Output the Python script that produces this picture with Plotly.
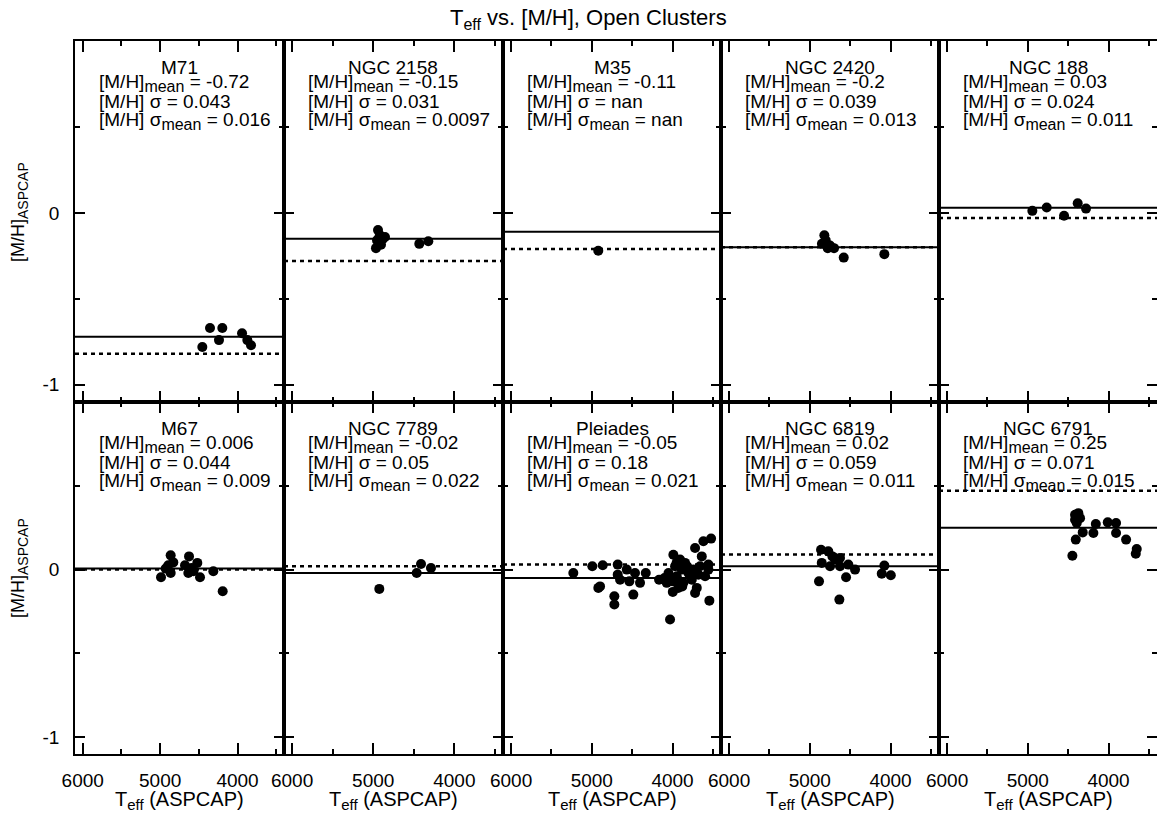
import plotly.graph_objects as go

# ---- cluster data: ASPCAP Teff and [M/H] per member star ----
names = ["M71", "NGC 2158", "M35", "NGC 2420", "NGC 188",
         "M67", "NGC 7789", "Pleiades", "NGC 6819", "NGC 6791"]

teff_m71 = [4455, 4356, 4240, 4197, 3942, 3874, 3826]
mh_m71 = [-0.78, -0.67, -0.74, -0.67, -0.70, -0.74, -0.77]

teff_ngc2158 = [4941, 4916, 4879, 4953, 4904, 4966, 4855, 4928, 4432, 4321]
mh_ngc2158 = [-0.10, -0.13, -0.15, -0.16, -0.185, -0.205, -0.14, -0.145, -0.18, -0.165]

teff_m35 = [4920]
mh_m35 = [-0.22]

teff_ngc2420 = [4820, 4803, 4778, 4700, 4750, 4850, 4580, 4077]
mh_ngc2420 = [-0.13, -0.16, -0.205, -0.205, -0.19, -0.18, -0.26, -0.24]

teff_ngc188 = [4944, 4766, 4551, 4382, 4279]
mh_ngc188 = [0.012, 0.031, -0.017, 0.056, 0.025]

teff_m67 = [4989, 4928, 4864, 4864, 4830, 4895, 4679, 4627, 4636, 4592,
            4520, 4485, 4313, 4192, 4571]
mh_m67 = [-0.046, 0.006, 0.085, -0.02, 0.043, 0.026, 0.026, 0.079, -0.02, 0.01,
          0.04, -0.046, -0.01, -0.129, -0.01]

teff_ngc7789 = [4925, 4464, 4411, 4288]
mh_ngc7789 = [-0.115, -0.02, 0.034, 0.01]

teff_pleiades = [5229, 4994, 4865, 4919, 4898, 4721, 4721, 4679, 4679, 4650,
                 4567, 4535, 4486, 4465, 4403, 4332, 4167, 4072, 4031, 3997,
                 3990, 3969, 3948, 3907, 3886, 3866, 3845, 3804, 3762, 3721,
                 3721, 3700, 3659, 3638, 3618, 3597, 3556, 3523, 3556, 3544,
                 4031, 3928, 3680, 3742, 4100, 4050, 3950, 3880, 3820, 3780,
                 4000, 3930]
mh_pleiades = [-0.02, 0.02, 0.026, -0.109, -0.10, -0.159, -0.208, 0.03, -0.03, -0.06,
               0.0, -0.07, -0.149, -0.02, -0.079, -0.02, -0.06, -0.079, -0.298, -0.133,
               0.089, 0.02, -0.04, 0.06, 0.0, -0.079, 0.04, -0.02, -0.06, 0.129,
               -0.139, -0.109, 0.02, 0.079, 0.169, -0.04, 0.03, 0.185, 0.0, -0.185,
               -0.049, -0.069, -0.03, 0.0, -0.05, -0.02, 0.04, -0.10, 0.02, -0.03,
               -0.07, -0.11]

teff_ngc6819 = [4886, 4861, 4771, 4852, 4749, 4687, 4626, 4626, 4551, 4523,
                4440, 4634, 4077, 4109, 3997, 4720]
mh_ngc6819 = [-0.07, 0.119, 0.109, 0.04, 0.02, 0.06, 0.07, 0.02, -0.046, 0.03,
              0.0, -0.179, 0.024, -0.024, -0.034, 0.079]

teff_ngc6791 = [4415, 4374, 4353, 4415, 4394, 4320, 4406, 4448, 4188, 4158,
                4010, 3907, 3907, 3783, 3651, 3663]
mh_ngc6791 = [0.327, 0.337, 0.307, 0.298, 0.278, 0.222, 0.179, 0.083, 0.218, 0.272,
              0.282, 0.278, 0.218, 0.179, 0.123, 0.095]

teff_all = [teff_m71, teff_ngc2158, teff_m35, teff_ngc2420, teff_ngc188,
            teff_m67, teff_ngc7789, teff_pleiades, teff_ngc6819, teff_ngc6791]
mh_all = [mh_m71, mh_ngc2158, mh_m35, mh_ngc2420, mh_ngc188,
          mh_m67, mh_ngc7789, mh_pleiades, mh_ngc6819, mh_ngc6791]

# summary statistics printed in each panel
mh_mean = [-0.72, -0.15, -0.11, -0.2, 0.03, 0.006, -0.02, -0.05, 0.02, 0.25]
mh_sigma = [0.043, 0.031, float("nan"), 0.039, 0.024, 0.044, 0.05, 0.18, 0.059, 0.071]
mh_sigma_mean = [0.016, 0.0097, float("nan"), 0.013, 0.011, 0.009, 0.022, 0.021, 0.011, 0.015]
# literature metallicities (dotted reference lines)
mh_lit = [-0.82, -0.28, -0.21, -0.20, -0.03, 0.0, 0.02, 0.03, 0.09, 0.47]

x_ticks = [6000, 5000, 4000]
y_ticks = [-1, 0]

# ---- layout geometry (pixels) ----
W, H = 1157, 813
col_edges = [75, 284, 503, 721, 939, 1157]
row_edges = [41, 402, 754]
FONT = "Liberation Sans, Arial, Helvetica, sans-serif"


def px(x):
    return x / W


def py(y):
    return 1 - y / H


def sub(s, size):
    return f'<sub><span style="font-size:{size}px">{s}</span></sub>'


fig = go.Figure()
layout_axes = {}
shapes = []
annotations = []

for i, name in enumerate(names):
    r, c = divmod(i, 5)
    n = i + 1
    xa = "x" if n == 1 else f"x{n}"
    ya = "y" if n == 1 else f"y{n}"
    xkey = "xaxis" if n == 1 else f"xaxis{n}"
    ykey = "yaxis" if n == 1 else f"yaxis{n}"

    layout_axes[xkey] = dict(
        domain=[px(col_edges[c]), px(col_edges[c + 1])],
        anchor=ya, range=[6100, 3400], autorange=False,
        tickmode="array", tickvals=x_ticks,
        ticktext=[str(v) for v in x_ticks],
        showticklabels=(r == 1),
        ticks="inside", ticklen=11, tickwidth=1.5, tickcolor="black",
        minor=dict(ticks="inside", ticklen=5, tickwidth=1.5, tickcolor="black",
                   tickvals=[5500, 4500, 3500]),
        showline=True, linewidth=1.6, linecolor="black", mirror="allticks",
        showgrid=False, zeroline=False, automargin=False,
        ticklabelstandoff=8,
        tickfont=dict(family=FONT, size=19, color="black"),
    )
    layout_axes[ykey] = dict(
        domain=[py(row_edges[r + 1]), py(row_edges[r])],
        anchor=xa, range=[-1.1, 1.0], autorange=False,
        tickmode="array", tickvals=y_ticks,
        ticktext=[str(v) for v in y_ticks],
        showticklabels=(c == 0),
        ticks="inside", ticklen=10, tickwidth=1.5, tickcolor="black",
        minor=dict(ticks="inside", ticklen=5, tickwidth=1.5, tickcolor="black",
                   tickvals=[-0.5, 0.5]),
        showline=True, linewidth=1.6, linecolor="black", mirror="allticks",
        showgrid=False, zeroline=False, automargin=False,
        ticklabelstandoff=10,
        tickfont=dict(family=FONT, size=19, color="black"),
    )

    # mean (solid) and literature (dotted) metallicity lines
    shapes.append(dict(type="line", xref=f"{xa} domain", yref=ya,
                       x0=0, x1=1, y0=mh_mean[i], y1=mh_mean[i],
                       line=dict(color="black", width=2)))
    shapes.append(dict(type="line", xref=f"{xa} domain", yref=ya,
                       x0=0, x1=1, y0=mh_lit[i], y1=mh_lit[i],
                       line=dict(color="black", width=2.5, dash="4px,4px")))

    fig.add_trace(go.Scatter(
        x=teff_all[i], y=mh_all[i], mode="markers",
        marker=dict(color="black", size=10),
        xaxis=xa, yaxis=ya, showlegend=False, hoverinfo="x+y",
    ))

    # panel text block
    top = row_edges[r]
    left = col_edges[c]
    centre = (col_edges[c] + col_edges[c + 1]) / 2
    tf = dict(family=FONT, size=19, color="black")
    annotations.append(dict(text=name, x=px(centre), y=py(top + 27),
                            xref="paper", yref="paper", xanchor="center",
                            yanchor="middle", showarrow=False, font=tf))
    lines = [
        f"[M/H]{sub('mean', 16)} = {mh_mean[i]}",
        f"[M/H] σ = {mh_sigma[i]}",
        f"[M/H] σ{sub('mean', 16)} = {mh_sigma_mean[i]}",
    ]
    for k, (txt, base) in enumerate(zip(lines, [48, 67, 86])):
        annotations.append(dict(text=txt, x=px(left + 22), y=py(top + base - 6),
                                xref="paper", yref="paper", xanchor="left",
                                yanchor="middle", showarrow=False, font=tf))

    if r == 1:
        annotations.append(dict(text="T" + sub("eff", 15) + " (ASPCAP)",
                                x=px(centre), y=py(800),
                                xref="paper", yref="paper", xanchor="center",
                                yanchor="middle", showarrow=False,
                                font=dict(family=FONT, size=20, color="black")))

# y-axis titles for each row
for yc in [212, 568]:
    annotations.append(dict(text="[M/H]" + sub("ASPCAP", 14), x=px(19), y=py(yc),
                            xref="paper", yref="paper", xanchor="center",
                            yanchor="middle", textangle=-90, showarrow=False,
                            font=dict(family=FONT, size=18, color="black")))

# figure title
annotations.append(dict(text="T" + sub("eff", 16) + " vs. [M/H], Open Clusters",
                        x=px(588), y=py(19), xref="paper", yref="paper",
                        xanchor="center", yanchor="middle", showarrow=False,
                        font=dict(family=FONT, size=22, color="black")))

fig.update_layout(
    width=W, height=H,
    margin=dict(l=0, r=0, t=0, b=0),
    paper_bgcolor="white", plot_bgcolor="white",
    shapes=shapes, annotations=annotations,
    showlegend=False,
    **layout_axes,
)

fig.write_html("out.html")
